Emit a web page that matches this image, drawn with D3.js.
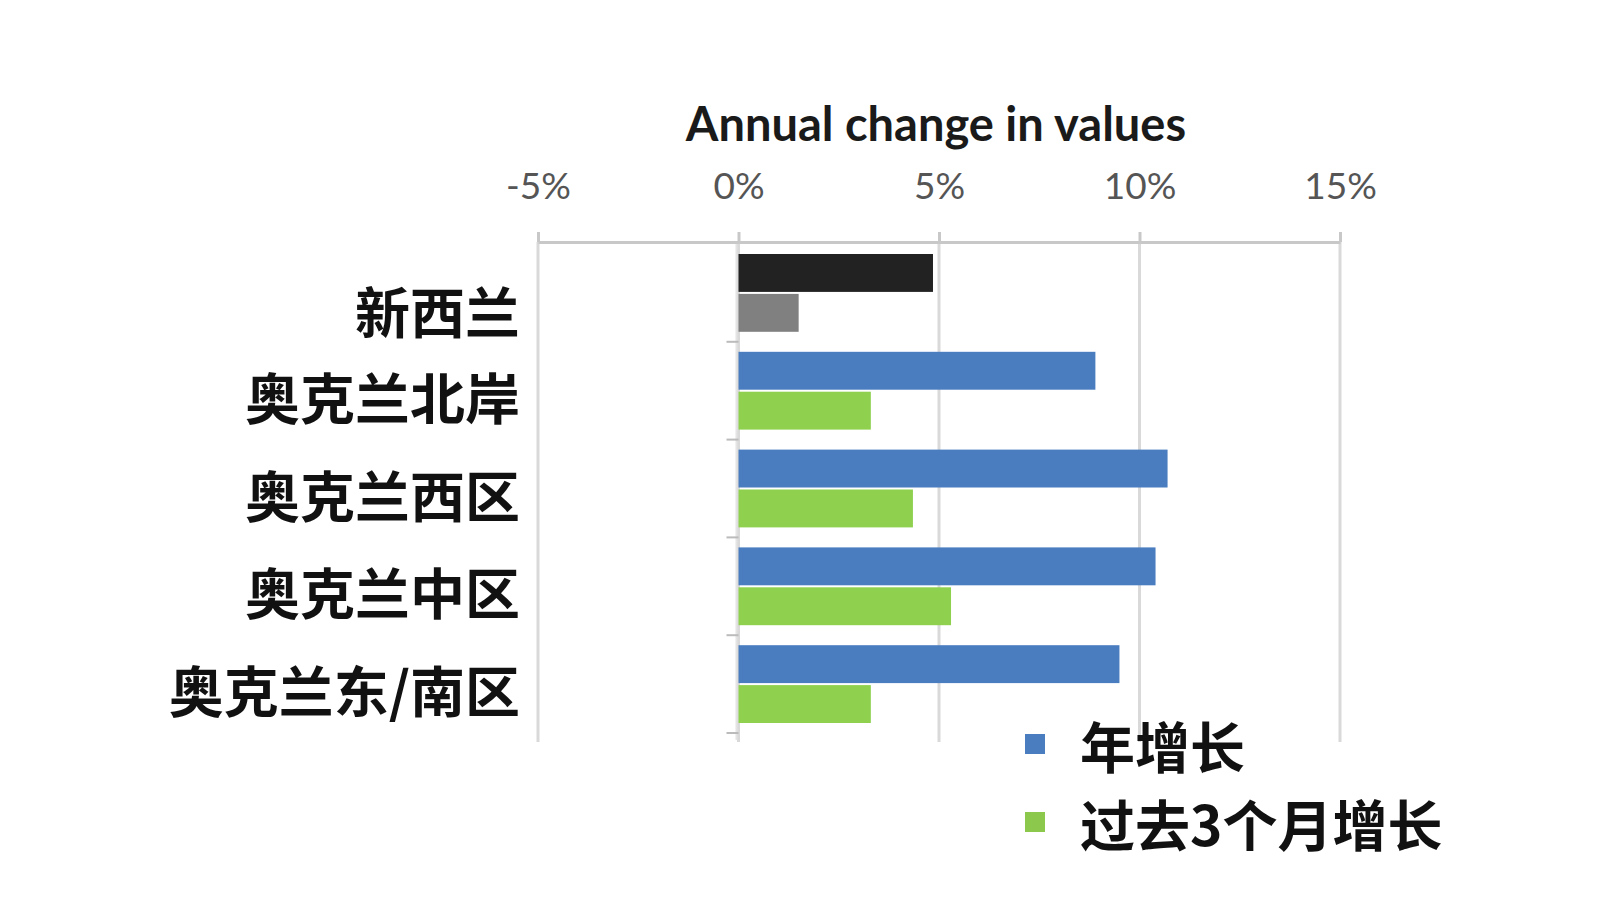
<!DOCTYPE html>
<html><head><meta charset="utf-8">
<script src="https://cdn.jsdelivr.net/npm/d3@7"></script>
<style>
html,body{margin:0;padding:0;background:#fff;}
svg{display:block;}
</style></head>
<body>
<svg id="chart" width="1599" height="914"></svg>
<script>
const categories = ["新西兰", "奥克兰北岸", "奥克兰西区", "奥克兰中区", "奥克兰东/南区"];
const annualGrowth = [4.85, 8.9, 10.7, 10.4, 9.5];
const quarterGrowth = [1.5, 3.3, 4.35, 5.3, 3.3];
const seriesNames = ["年增长", "过去3个月增长"];
const annualColors = ["#222222", "#4a7dc0", "#4a7dc0", "#4a7dc0", "#4a7dc0"];
const quarterColors = ["#808080", "#8fd14f", "#8fd14f", "#8fd14f", "#8fd14f"];
const legendColors = ["#4a7dc0", "#8cc84b"];
const tickValues = [-5, 0, 5, 10, 15];
const titleText = "Annual change in values";

const svg = d3.select("#chart");
const x = d3.scaleLinear().domain([-5, 15]).range([538, 1340]);
const y0 = d3.scaleBand().domain(categories).range([244, 733]).padding(0);
const y1 = d3.scaleBand().domain(["a", "q"]).range([10, y0.bandwidth() - 10]).paddingInner(0.05);

// title
svg.append("text").attr("x", 936).attr("y", 141).attr("text-anchor", "middle")
  .attr("font-family", "Lato, 'Open Sans', sans-serif").attr("font-weight", "bold")
  .attr("font-size", 47).attr("fill", "#1a1a1a").text(titleText);

// gridlines
svg.append("g").selectAll("line").data(tickValues).join("line")
  .attr("x1", d => x(d)).attr("x2", d => x(d))
  .attr("y1", 242).attr("y2", 742)
  .attr("stroke", "#d9d9d9").attr("stroke-width", 3);

// top axis
const axis = svg.append("g").attr("transform", "translate(0,242)")
  .call(d3.axisTop(x).tickValues(tickValues).tickFormat(d => d + "%").tickSize(10).tickPadding(33).tickSizeOuter(0));
axis.select(".domain").attr("stroke", "#c8c8c8").attr("stroke-width", 3);
axis.selectAll(".tick line").attr("stroke", "#c8c8c8").attr("stroke-width", 3);
axis.selectAll(".tick text").attr("font-family", "Lato, 'Open Sans', sans-serif")
  .attr("font-size", 37).attr("fill", "#555");

// faint zero axis with small ticks
svg.append("line").attr("x1", x(0) - 2).attr("x2", x(0) - 2).attr("y1", 244).attr("y2", 740)
  .attr("stroke", "#e4e4e4").attr("stroke-width", 2);
svg.append("g").selectAll("line").data(categories).join("line")
  .attr("x1", x(0) - 12).attr("x2", x(0))
  .attr("y1", d => y0(d) + y0.bandwidth()).attr("y2", d => y0(d) + y0.bandwidth())
  .attr("stroke", "#bbb").attr("stroke-width", 2);

// bars
const groups = svg.append("g").selectAll("g").data(categories).join("g")
  .attr("transform", d => `translate(0,${y0(d)})`);
groups.append("rect")
  .attr("x", x(0)).attr("y", y1("a")).attr("height", y1.bandwidth())
  .attr("width", (d, i) => x(annualGrowth[i]) - x(0))
  .attr("fill", (d, i) => annualColors[i]);
groups.append("rect")
  .attr("x", x(0)).attr("y", y1("q")).attr("height", y1.bandwidth())
  .attr("width", (d, i) => x(quarterGrowth[i]) - x(0))
  .attr("fill", (d, i) => quarterColors[i]);

// category labels
svg.append("g").selectAll("text").data(categories).join("text")
  .attr("x", 520)
  .attr("y", (d, i) => y0(d) + y0.bandwidth() / 2 + (i === 0 ? 16 : 4))
  .attr("text-anchor", "end").attr("dominant-baseline", "central")
  .attr("font-family", "'Noto Sans CJK SC', sans-serif").attr("font-weight", "bold")
  .attr("font-size", 55).attr("fill", "#111").text(d => d);

// legend
const legendY = [744, 822];
const lg = svg.append("g").selectAll("g").data(seriesNames).join("g")
  .attr("transform", (d, i) => `translate(1025,${legendY[i]})`);
lg.append("rect").attr("x", 0).attr("y", -10).attr("width", 20).attr("height", 20)
  .attr("fill", (d, i) => legendColors[i]);
lg.append("text").attr("x", 55).attr("y", 0).attr("dominant-baseline", "central")
  .attr("font-family", "'Noto Sans CJK SC', sans-serif").attr("font-weight", "bold")
  .attr("font-size", 55).attr("fill", "#111").text(d => d);
</script>
</body></html>
